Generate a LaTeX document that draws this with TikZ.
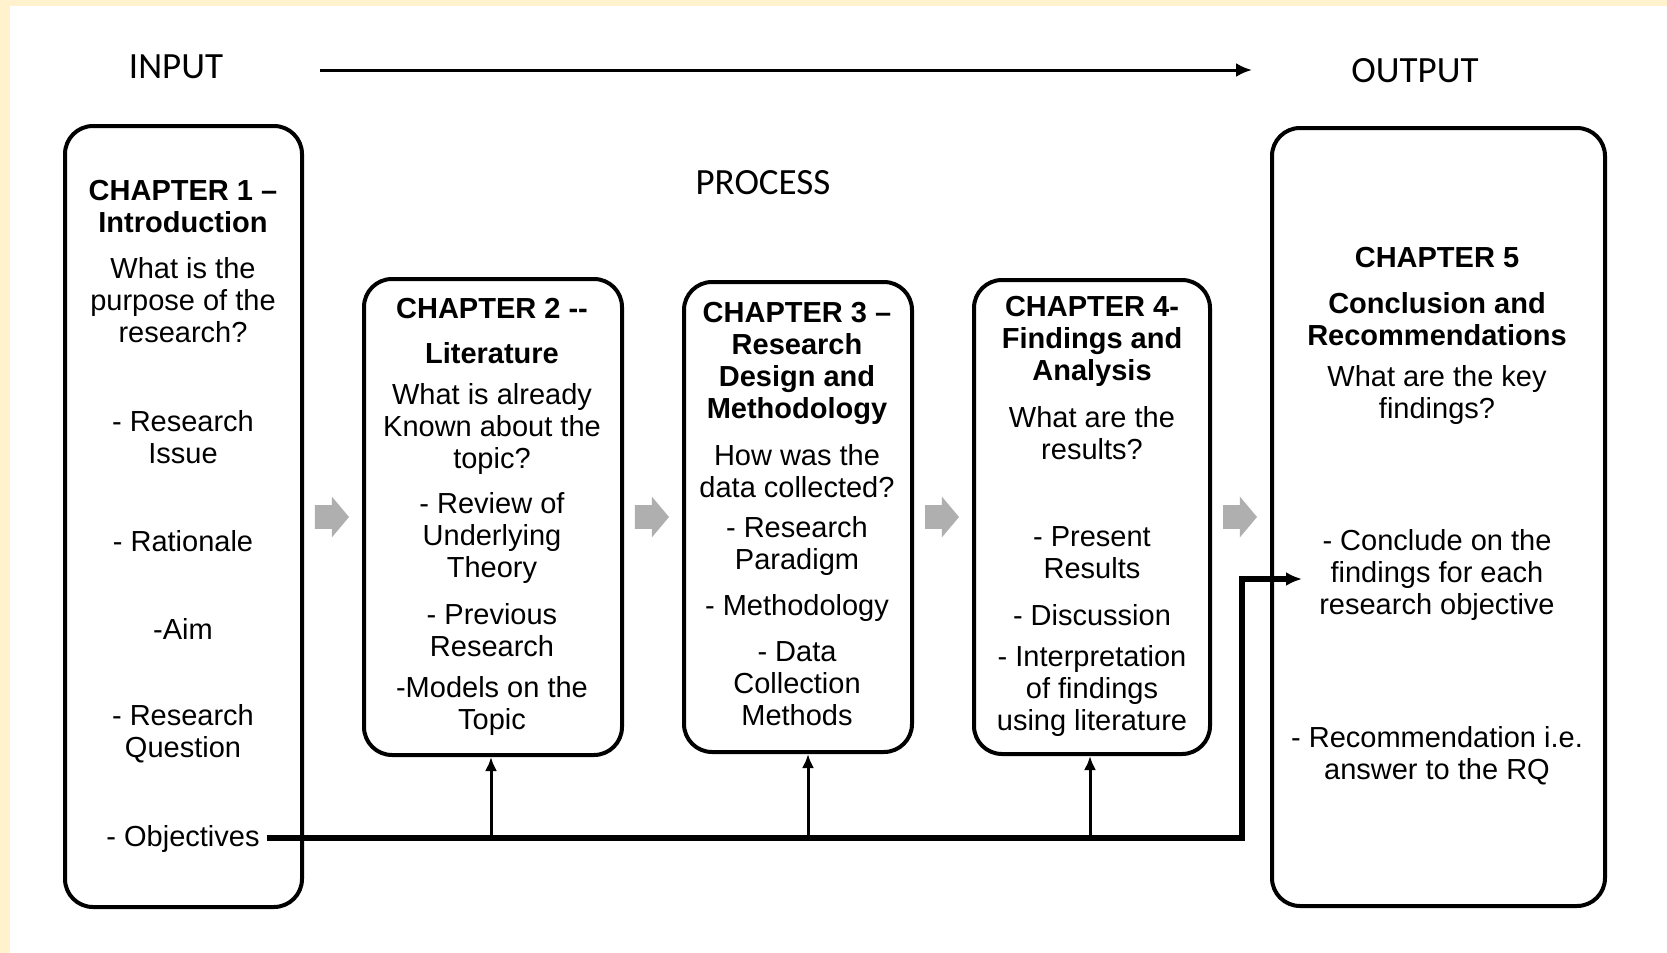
\documentclass[tikz,border=0pt]{standalone}
\usepackage{fontspec}
\setmainfont{Liberation Sans}
\newfontfamily\calib{Carlito}
\usetikzlibrary{arrows.meta,shapes.arrows}
\definecolor{frameyellow}{RGB}{255,242,204}
\definecolor{arrowgray}{RGB}{175,175,175}
\begin{document}
\begin{tikzpicture}[x=0.5pt,y=-0.5pt,
  chapbox/.style={draw=black, line width=2pt, rounded corners=14pt, inner sep=0pt},
  txt/.style={align=center, font=\fontsize{14.5}{16}\selectfont, inner sep=0pt},
  ttl/.style={txt, font=\fontsize{14.5}{16}\selectfont\bfseries},
  lbl/.style={font=\calib\fontsize{18.5}{20}\selectfont, inner sep=0pt},
  grayarrow/.style={single arrow, fill=arrowgray, draw=none, minimum height=17pt,
    minimum width=20pt, single arrow head extend=4.25pt, inner sep=5.75pt,
    single arrow tip angle=100},
  link/.style={line width=2.6pt, line join=miter, -{Latex[length=8pt,width=7pt]}},
  uparrow/.style={line width=1.5pt, -{Latex[length=7pt,width=6pt]}},
]
\fill[frameyellow] (0,0) rectangle (1667,953);
\fill[white] (10,6) rectangle (1667,953);
\useasboundingbox (0,0) rectangle (1667,953);

% labels and top arrow
\node[lbl] (input) at (176,67) {INPUT};
\node[lbl] (output) at (1415,71) {OUTPUT};
\node[lbl] (process) at (763,183) {PROCESS};
\coordinate (ts) at (320,70);
\coordinate (te) at (1252,70);
\draw[line width=1.5pt, -{Latex[length=8pt,width=7pt]}] (ts) -- (te);

% boxes
\node[chapbox, minimum width=118.5pt, minimum height=390.5pt] (b1) at (183.5,516.5) {};
\node[chapbox, minimum width=129pt, minimum height=238pt] (b2) at (493,517) {};
\node[chapbox, minimum width=114pt, minimum height=235pt] (b3) at (798,517) {};
\node[chapbox, minimum width=118pt, minimum height=237pt] (b4) at (1092,517) {};
\node[chapbox, minimum width=166.5pt, minimum height=389pt] (b5) at (1438.5,517) {};

% gray arrows
\node[grayarrow] (g1) at (327,517) {};
\node[grayarrow] (g2) at (647,517) {};
\node[grayarrow] (g3) at (937,517) {};
\node[grayarrow] (g4) at (1235,517) {};

% box 1
\node[ttl] (t1) at (183,207) {CHAPTER 1 –\\Introduction};
\node[txt] (q1) at (183,300) {What is the\\purpose of the\\research?};
\node[txt] (i1a) at (183,437) {- Research\\Issue};
\node[txt] (i1b) at (183,541) {- Rationale};
\node[txt] (i1c) at (183,629) {-Aim};
\node[txt] (i1d) at (183,734) {- Research\\Question};
\node[txt] (obj) at (183,839) {- Objectives};

% box 2
\node[ttl] (t2a) at (492,309) {CHAPTER 2 -{}-};
\node[ttl] (t2b) at (492,353) {Literature};
\node[txt] (q2) at (492,429) {What is already\\Known about the\\topic?};
\node[txt] (i2a) at (492,538) {- Review of\\Underlying\\Theory};
\node[txt] (i2b) at (492,630) {- Previous\\Research};
\node[txt] (i2c) at (492,706) {-Models on the\\Topic};

% box 3
\node[ttl] (t3) at (797,363) {CHAPTER 3 –\\Research\\Design and\\Methodology};
\node[txt] (q3) at (797,471) {How was the\\data collected?};
\node[txt] (i3a) at (797,546) {- Research\\Paradigm};
\node[txt] (i3b) at (797,608) {- Methodology};
\node[txt] (i3c) at (797,684) {- Data\\Collection\\Methods};

% box 4
\node[ttl] (t4) at (1092,341) {CHAPTER 4-\\Findings and\\Analysis};
\node[txt] (q4) at (1092,433) {What are the\\results?};
\node[txt] (i4a) at (1092,553) {- Present\\Results};
\node[txt] (i4b) at (1092,615) {- Discussion};
\node[txt] (i4c) at (1092,691) {- Interpretation\\of findings\\using literature};

% box 5
\node[ttl] (t5a) at (1437,258) {CHAPTER 5};
\node[ttl] (t5b) at (1437,319) {Conclusion and\\Recommendations};
\node[txt] (q5) at (1437,395) {What are the key\\findings?};
\node[txt] (i5a) at (1437,575) {- Conclude on the\\findings for each\\research objective};
\node[txt] (i5b) at (1437,756) {- Recommendation i.e.\\answer to the RQ};

% objectives line
\coordinate (turn) at (1242,838);
\coordinate (up) at (1242,579);
\coordinate (tip) at (1302,579);
\draw[link] ([xshift=3.5pt,yshift=0.5pt]obj.east) -- (turn) -- (up) -- (tip);
\coordinate (j1) at (491,838);
\coordinate (j2) at (808,838);
\coordinate (j3) at (1090,838);
\draw[uparrow] (j1) -- (j1 |- b2.south);
\draw[uparrow] (j2) -- (j2 |- b3.south);
\draw[uparrow] (j3) -- (j3 |- b4.south);
\end{tikzpicture}
\end{document}
